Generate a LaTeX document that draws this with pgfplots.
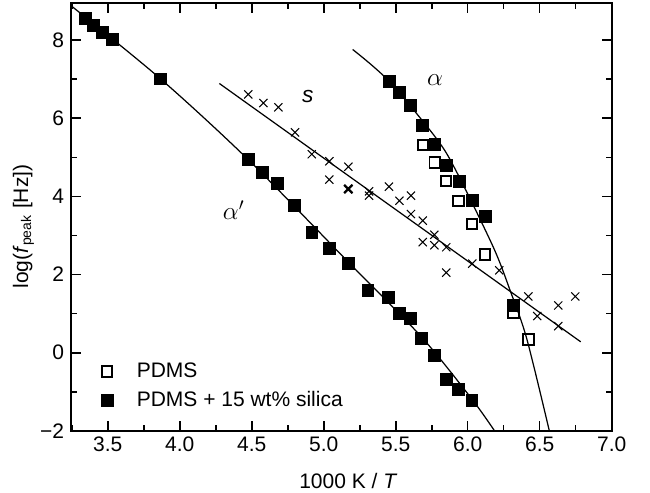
\documentclass[border=0pt]{standalone}
\usepackage{fontspec}
\setmainfont{Liberation Sans}
\usepackage{pgfplots}
\pgfplotsset{compat=1.18}
\begin{document}
\begin{tikzpicture}
\begin{axis}[
  scale only axis,
  width=309pt, height=244.6pt,
  xmin=3.245, xmax=7.0, ymin=-2, ymax=8.95,
  xtick={3.5,4.0,4.5,5.0,5.5,6.0,6.5,7.0},
  xticklabels={3.5,4.0,4.5,5.0,5.5,6.0,6.5,7.0},
  ytick={-2,0,2,4,6,8},
  yticklabels={−2,0,2,4,6,8},
  minor xtick={3.25,3.75,4.25,4.75,5.25,5.75,6.25,6.75},
  minor ytick={-1,1,3,5,7,9},
  tick align=inside,
  tick pos=both,
  major tick length=5.8pt,
  minor tick length=3.3pt,
  tick style={line width=0.9pt, black},
  axis line style={line width=1.1pt},
  tick label style={font=\fontsize{12}{14}\selectfont},
  yticklabel style={xshift=-0.5pt},
  xlabel={1000 K / \textit{T}},
  ylabel={log(\textit{f}\textsubscript{peak} [Hz])},
  label style={font=\fontsize{12}{14}\selectfont},
  xlabel style={yshift=-5.5pt, xshift=4pt},
  ylabel style={yshift=-3.5pt, xshift=-5.5pt},
  legend style={draw=none, fill=none, at={(0.045,0.176)}, anchor=north west,
    font=\fontsize{12}{14}\selectfont, row sep=2.2pt},
  legend cell align=left,
  legend image code/.code={\path[draw=none,fill=none] (0,0) (0.63cm,0); \path[#1] plot[only marks] coordinates {(0.1cm,0cm)};},
]
% fit lines
\addplot[black, line width=0.7pt, smooth, forget plot] coordinates {
(3.245,8.88) (3.863,7.02) (4.476,4.94) (5.171,2.32) (5.68,0.40) (6.028,-1.18) (6.183,-1.98)};
\addplot[black, line width=0.7pt, smooth, forget plot] coordinates {
(5.201,7.76) (5.453,6.95) (5.785,5.47) (5.924,4.62) (6.178,2.70) (6.294,1.60) (6.41,0.36) (6.567,-2.0)};
\addplot[black, line width=0.7pt, forget plot] coordinates {
(4.275,6.89) (6.785,0.28)};
% crosses (s)
\addplot[only marks, mark=x, mark size=3.3pt, mark options={line width=0.6pt}, forget plot] coordinates {
(4.476,6.61) (4.581,6.39) (4.685,6.28) (4.801,5.64) (4.917,5.08) (5.039,4.90) (5.039,4.43)
(5.171,4.76) (5.171,4.19) (5.315,4.13) (5.315,4.02) (5.453,4.25) (5.526,3.89) (5.606,4.02)
(5.606,3.55) (5.688,3.38) (5.768,3.02) (5.688,2.83) (5.768,2.75) (5.851,2.70) (5.851,2.05)
(6.032,2.28) (6.219,2.11) (6.421,1.44) (6.483,0.94) (6.629,1.21) (6.629,0.68) (6.747,1.44)};
\addplot[only marks, mark=x, mark size=3.3pt, mark options={line width=1.3pt}, forget plot] coordinates {
(5.171,4.19)};
% PDMS open squares
\addplot[only marks, mark=square, mark size=3.0pt, mark options={line width=1.1pt, fill=white}] coordinates {
(5.688,5.32) (5.771,4.87) (5.849,4.39) (5.937,3.88) (6.030,3.30) (6.120,2.51) (6.317,1.02) (6.421,0.34)};
\addlegendentry{PDMS}
% filled squares
\addplot[only marks, mark=square*, mark size=3.4pt, mark options={fill=black, line width=0.3pt}] coordinates {
(3.342,8.57) (3.40,8.375) (3.46,8.20) (3.53,8.02) (3.863,7.01) (4.476,4.94) (4.574,4.62)
(4.678,4.34) (4.796,3.78) (4.917,3.09) (5.039,2.68) (5.171,2.30) (5.306,1.61) (5.451,1.41)
(5.525,1.02) (5.60,0.89) (5.68,0.36) (5.766,-0.06) (5.849,-0.67) (5.937,-0.93) (6.028,-1.21)
(5.453,6.95) (5.525,6.66) (5.601,6.33) (5.683,5.82) (5.771,5.34) (5.849,4.80) (5.940,4.38)
(6.030,3.91) (6.120,3.49) (6.317,1.21)};
\addlegendentry{PDMS + 15 wt\% silica}
% labels
\node[font=\fontsize{13}{15}\selectfont\itshape] at (axis cs:4.889,6.55) {s};
\node[font=\fontsize{14}{16}\selectfont] at (axis cs:5.774,6.98) {$\alpha$};
\node[font=\fontsize{14}{16}\selectfont] at (axis cs:4.375,3.66) {$\alpha'$};
\coordinate (bl) at (rel axis cs:0,0);
\coordinate (tr) at (rel axis cs:1,1);
\end{axis}
\pgfresetboundingbox
\path[use as bounding box] ([shift={(-40.6pt,-35.4pt)}]bl) rectangle ([shift={(21.9pt,1.7pt)}]tr);
\end{tikzpicture}
\end{document}
